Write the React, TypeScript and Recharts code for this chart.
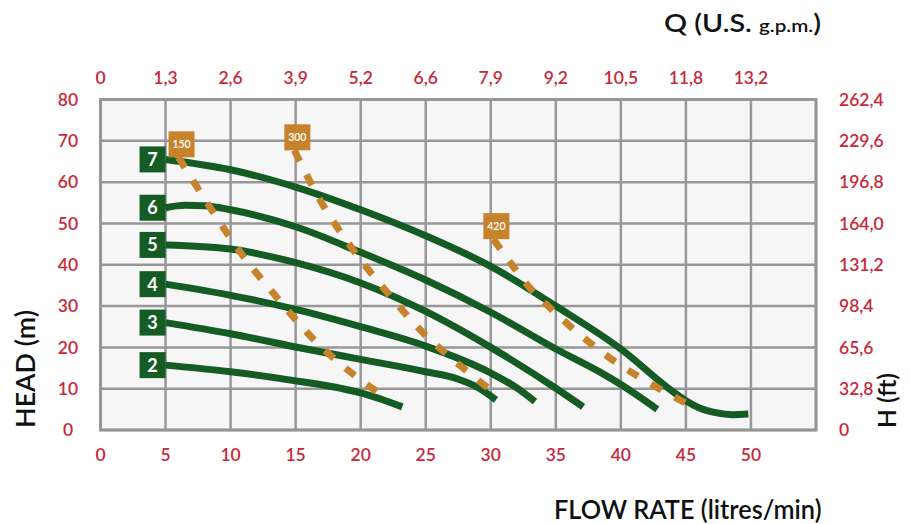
import React from 'react';
import { LineChart, Line, XAxis, YAxis, CartesianGrid, ReferenceArea } from 'recharts';

const flowTicks = [0, 5, 10, 15, 20, 25, 30, 35, 40, 45, 50];
const gpmLabels = ['0', '1,3', '2,6', '3,9', '5,2', '6,6', '7,9', '9,2', '10,5', '11,8', '13,2'];
const headTicks = [0, 10, 20, 30, 40, 50, 60, 70, 80];
const feetLabels = ['0', '32,8', '65,6', '98,4', '131,2', '164,0', '196,8', '229,6', '262,4'];

// stage curves: [flow l/min, head m]
const curve2 = [[5, 15.7], [10, 14.1], [15, 11.9], [18.6, 10.0], [20, 9.0], [23.2, 5.6]];
const curve3 = [[5, 26.0], [10, 23.3], [15, 20.1], [20, 17.1], [25, 14.1], [27.4, 12.4], [29, 10.3], [30.4, 7.3]];
const curve4 = [[5, 35.3], [10, 32.6], [15, 29.2], [20, 25.0], [25, 20.3], [30, 13.8], [32, 10.2], [33.4, 6.9]];
const curve5 = [[5, 44.8], [10, 43.8], [15, 40.5], [20, 35.6], [25, 28.7], [30, 20.0], [35, 10.1], [37.1, 5.6]];
const curve6 = [[5, 53.8], [6.5, 54.4], [8, 54.3], [10, 53.3], [15, 49.2], [20, 43.0], [25, 36.3], [30, 28.5], [35, 19.6], [38.4, 14.0], [40, 11.0], [42.8, 5.0]];
const curve7 = [[5, 65.5], [10, 63.0], [15, 58.8], [20, 53.3], [25, 47.0], [30, 39.6], [35, 30.0], [40, 19.6], [44, 9.3], [45, 7.1], [46, 5.4], [47.3, 4.2], [48.6, 3.7], [49.8, 3.85]];
const stageNames = ['2', '3', '4', '5', '6', '7'];
const stageCurves = [curve2, curve3, curve4, curve5, curve6, curve7];

// power lines (W)
const power150 = [[6.0, 66.0], [8.4, 54.0], [10.8, 42.8], [13.5, 32.3], [16.3, 22.2], [19.5, 13.3], [21.7, 8.3]];
const power300 = [[14.9, 67.7], [17, 55.0], [19.4, 43.7], [22.2, 32.7], [24.9, 23.2], [27.3, 16.5], [30.1, 9.4]];
const power420 = [[30.2, 46.2], [31.6, 40.1], [32.9, 34.8], [34.4, 30.0], [36.0, 25.4], [39.3, 17.1], [42.9, 10.1], [45.0, 6.5]];
const powerNames = ['150', '300', '420'];
const powerCurves = [power150, power300, power420];

const GREEN = '#155c24';
const ORANGE = '#c6832b';
const RED = '#c8283a';
const GRID = '#979797';
const FONT = 'Lato, "Open Sans", sans-serif';

const toPoints = (arr: number[][]) => arr.map(([q, h]) => ({ q, h }));

const greenDot = (name: string) => (props: any) => {
  const { cx, cy, index } = props;
  if (index !== 0 || cx == null) return <g key={`gd-${name}-${index}`} />;
  return (
    <g key={`gd-${name}-${index}`}>
      <rect x={cx - 26} y={cy - 13} width={26} height={26} fill={GREEN} />
      <text x={cx - 13} y={cy + 6.5} textAnchor="middle" fill="#fff" fontSize={18} fontWeight={700} fontFamily={FONT}>{name}</text>
    </g>
  );
};

const orangeDot = (name: string) => (props: any) => {
  const { cx, cy, index } = props;
  if (index !== 0 || cx == null) return <g key={`od-${name}-${index}`} />;
  return (
    <g key={`od-${name}-${index}`}>
      <rect x={cx - 10} y={cy - 26} width={26} height={26} fill={ORANGE} />
      <text x={cx + 3} y={cy - 9.5} textAnchor="middle" fill="#fff" fontSize={10.5} fontWeight={600} fontFamily={FONT}>{name}</text>
    </g>
  );
};

const tickStyle = { fill: RED, fontSize: 17.5, fontWeight: 600, fontFamily: FONT } as const;

const BottomTick = (props: any) => (
  <text x={props.x} y={453.3} textAnchor="middle" {...tickStyle}>{props.payload.value}</text>
);
const TopTick = (props: any) => (
  <text x={props.x} y={76} textAnchor="middle" {...tickStyle}>{gpmLabels[flowTicks.indexOf(props.payload.value)]}</text>
);
const LeftTick = (props: any) => (
  <text x={60} y={props.y + 6.3} textAnchor="middle" {...tickStyle}>{props.payload.value}</text>
);
const RightTick = (props: any) => (
  <text x={831} y={props.y + 6.3} textAnchor="start" {...tickStyle}>{feetLabels[headTicks.indexOf(props.payload.value)]}</text>
);

export default function App() {
  return (
    <div style={{ position: 'relative', width: 894, height: 516 }}>
      <LineChart width={894} height={516} margin={{ top: 61.5, right: 26, bottom: 64, left: 32.5 }}>
        <CartesianGrid stroke={GRID} strokeWidth={2.5} fill="#f6f6f6" fillOpacity={1} />
        <XAxis dataKey="q" type="number" domain={[0, 55]} ticks={flowTicks} axisLine={false} tickLine={false} height={30} tick={BottomTick} interval={0} />
        <XAxis xAxisId="top" orientation="top" dataKey="q" type="number" domain={[0, 55]} ticks={flowTicks} axisLine={false} tickLine={false} height={30} tick={TopTick} interval={0} />
        <YAxis dataKey="h" type="number" domain={[0, 80]} ticks={headTicks} axisLine={false} tickLine={false} width={60} tick={LeftTick} interval={0} />
        <YAxis yAxisId="right" orientation="right" dataKey="h" type="number" domain={[0, 80]} ticks={headTicks} axisLine={false} tickLine={false} width={60} tick={RightTick} interval={0} />
        <ReferenceArea x1={0} x2={55} y1={0} y2={80} fill="none" stroke={GRID} strokeWidth={3} ifOverflow="visible" />
        <Line data={toPoints(curve7)} dataKey="h" xAxisId="top" yAxisId="right" stroke="none" dot={false} activeDot={false} isAnimationActive={false} legendType="none" />
        {stageCurves.map((c, i) => (
          <Line key={`s${i}`} data={toPoints(c)} dataKey="h" type="monotone" stroke={GREEN} strokeWidth={7}
            dot={greenDot(stageNames[i])} activeDot={false} isAnimationActive={false} />
        ))}
        {powerCurves.map((c, i) => (
          <Line key={`p${i}`} data={toPoints(c)} dataKey="h" type="monotone" stroke={ORANGE} strokeWidth={7}
            strokeDasharray="12 15" dot={orangeDot(powerNames[i])} activeDot={false} isAnimationActive={false} />
        ))}
      </LineChart>
      <svg width={902} height={524} style={{ position: 'absolute', left: -8, top: -8, pointerEvents: 'none' }}>
        <text x={664} y={32} textLength={157} lengthAdjust="spacingAndGlyphs" fontSize={25} fontWeight={600} fill="#111" fontFamily={FONT}>
          <tspan>Q (U.S. </tspan><tspan fontSize={18}>g.p.m.</tspan><tspan fontSize={25}>)</tspan>
        </text>
        <text x={554} y={518.5} textLength={267.5} lengthAdjust="spacingAndGlyphs" fontSize={26} fontWeight={600} fill="#111" fontFamily={FONT}>
          FLOW RATE (litres/min)
        </text>
        <text x={35} y={428} transform="rotate(-90, 35, 428)" textLength={118} lengthAdjust="spacingAndGlyphs" fontSize={26} fontWeight={600} fill="#111" fontFamily={FONT}>
          HEAD (m)
        </text>
        <text x={896} y={428} transform="rotate(-90, 896, 428)" textLength={55} lengthAdjust="spacingAndGlyphs" fontSize={24} fontWeight={600} fill="#111" fontFamily={FONT}>
          H (ft)
        </text>
      </svg>
    </div>
  );
}
